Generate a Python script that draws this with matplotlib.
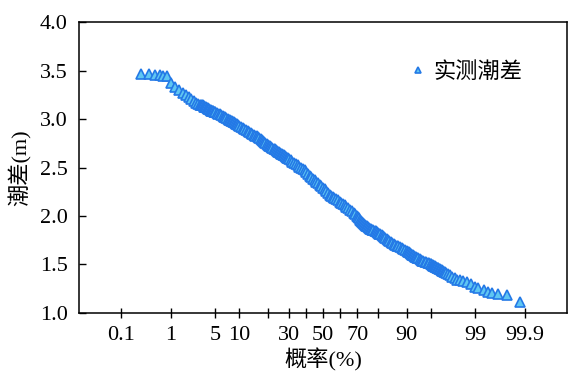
import numpy as np
import matplotlib
matplotlib.use("Agg")
import matplotlib.pyplot as plt
from matplotlib.ticker import FixedLocator, FixedFormatter
from statistics import NormalDist

plt.rcParams['font.family'] = ['Liberation Serif', 'Noto Sans CJK SC', 'DejaVu Sans']

# exceedance probability (%) grid where the curve was read, by segment
prob_left = [0.27, 0.39, 0.51, 0.64, 0.74, 0.86]
prob_1_3 = np.arange(1.0, 2.9, 0.2)
prob_3_5 = np.arange(3.0, 4.95, 0.1)
prob_5_10 = np.arange(5.0, 9.9, 0.25)
prob_10_30 = np.arange(10.0, 29.9, 0.5)
prob_30_70 = np.arange(30.0, 69.5, 1.0)
prob_70_90 = np.arange(70.0, 89.9, 0.5)
prob_90_95 = np.arange(90.0, 94.9, 0.25)
prob_95_97 = np.arange(95.0, 96.95, 0.1)
prob_97_99 = np.arange(97.0, 98.9, 0.2)
prob_right = [99.0, 99.1, 99.3, 99.42, 99.52, 99.63, 99.75, 99.87]

# measured tide range (m) at those probabilities
tide_left = [3.46, 3.46, 3.45, 3.45, 3.44, 3.44]
tide_1_3 = [3.37, 3.33, 3.30, 3.27, 3.25, 3.23, 3.21, 3.19, 3.17, 3.16]
tide_3_5 = [3.15, 3.15, 3.14, 3.14, 3.13, 3.12, 3.12, 3.12, 3.11, 3.11,
            3.10, 3.10, 3.09, 3.09, 3.08, 3.08, 3.08, 3.08, 3.07, 3.07]
tide_5_10 = [3.07, 3.06, 3.05, 3.05, 3.04, 3.03, 3.02, 3.02, 3.01, 3.00,
             2.99, 2.99, 2.98, 2.98, 2.97, 2.97, 2.96, 2.95, 2.95, 2.94]
tide_10_30 = [2.93, 2.92, 2.91, 2.90, 2.89, 2.88, 2.87, 2.86, 2.85, 2.84,
              2.83, 2.82, 2.81, 2.80, 2.79, 2.78, 2.77, 2.76, 2.75, 2.74,
              2.73, 2.72, 2.72, 2.71, 2.70, 2.69, 2.69, 2.68, 2.67, 2.66,
              2.66, 2.65, 2.64, 2.64, 2.63, 2.63, 2.62, 2.61, 2.60, 2.60]
tide_30_70 = [2.59, 2.58, 2.56, 2.55, 2.54, 2.53, 2.51, 2.50, 2.48, 2.47,
              2.45, 2.43, 2.41, 2.40, 2.38, 2.37, 2.35, 2.34, 2.32, 2.31,
              2.29, 2.28, 2.26, 2.24, 2.22, 2.21, 2.20, 2.19, 2.17, 2.16,
              2.14, 2.13, 2.12, 2.11, 2.09, 2.08, 2.06, 2.05, 2.03, 2.02]
tide_70_90 = [2.00, 1.99, 1.98, 1.96, 1.95, 1.94, 1.93, 1.92, 1.91, 1.90,
              1.90, 1.89, 1.88, 1.87, 1.87, 1.86, 1.85, 1.84, 1.84, 1.83,
              1.82, 1.81, 1.81, 1.80, 1.79, 1.78, 1.77, 1.76, 1.75, 1.74,
              1.73, 1.72, 1.71, 1.70, 1.69, 1.69, 1.68, 1.67, 1.66, 1.65]
tide_90_95 = [1.64, 1.63, 1.63, 1.62, 1.61, 1.60, 1.60, 1.59, 1.58, 1.58,
              1.57, 1.57, 1.56, 1.55, 1.54, 1.54, 1.53, 1.52, 1.51, 1.51]
tide_95_97 = [1.50, 1.50, 1.49, 1.49, 1.48, 1.48, 1.48, 1.47, 1.47, 1.46,
              1.46, 1.46, 1.45, 1.45, 1.44, 1.44, 1.43, 1.43, 1.42, 1.42]
tide_97_99 = [1.41, 1.40, 1.39, 1.37, 1.36, 1.34, 1.34, 1.33, 1.32, 1.30]
tide_right = [1.27, 1.26, 1.24, 1.22, 1.21, 1.19, 1.18, 1.11]

prob_pct = np.concatenate([prob_left, prob_1_3, prob_3_5, prob_5_10, prob_10_30,
                           prob_30_70, prob_70_90, prob_90_95, prob_95_97,
                           prob_97_99, prob_right])
tide_range = np.concatenate([tide_left, tide_1_3, tide_3_5, tide_5_10, tide_10_30,
                             tide_30_70, tide_70_90, tide_90_95, tide_95_97,
                             tide_97_99, tide_right])

major_ticks = [0.1, 1, 5, 10, 30, 50, 70, 90, 99, 99.9]
major_labels = ['0.1', '1', '5', '10', '30', '50', '70', '90', '99', '99.9']
minor_ticks = [20, 40, 60, 80, 95]

nd = NormalDist()


def fwd(p):
    p = np.clip(np.asarray(p, dtype=float) / 100.0, 1e-12, 1 - 1e-12)
    return np.vectorize(nd.inv_cdf, otypes=[float])(p)


def inv(z):
    return np.vectorize(nd.cdf, otypes=[float])(np.asarray(z, dtype=float)) * 100.0


fig = plt.figure(figsize=(5.84, 3.82), dpi=100)
ax = fig.add_axes([0.135, 0.181, 0.836, 0.761])
ax.set_xscale('function', functions=(fwd, inv))

ax.plot(prob_pct, tide_range, linestyle='none', marker='^', markersize=7,
        markerfacecolor='#5fc6f2', markeredgecolor='#2479e6', markeredgewidth=1.2,
        label='实测潮差')

ax.set_xlim(inv(-3.73), inv(3.73))
ax.set_ylim(1.0, 4.0)

ax.xaxis.set_major_locator(FixedLocator(major_ticks))
ax.xaxis.set_major_formatter(FixedFormatter(major_labels))
ax.xaxis.set_minor_locator(FixedLocator(minor_ticks))
ax.set_yticks(np.arange(1.0, 4.01, 0.5))
ax.set_yticklabels([f'{v:.1f}' for v in np.arange(1.0, 4.01, 0.5)])

ax.tick_params(axis='x', which='both', direction='inout', length=7, width=1.0,
               labelsize=16, pad=6, top=False)
ax.tick_params(axis='y', direction='in', length=5, width=1.0, labelsize=16,
               pad=8, right=False)
for s in ax.spines.values():
    s.set_linewidth(1.1)

ax.set_xlabel('概率(%)', fontsize=16, labelpad=2)
ax.set_ylabel('潮差(m)', fontsize=16, labelpad=6)

ax.legend(loc='center left', bbox_to_anchor=(0.672, 0.828), frameon=False,
          fontsize=16, handlelength=1.0, handletextpad=0.2, borderpad=0,
          borderaxespad=0, markerscale=0.55)

fig.savefig('out.png', dpi=100)
